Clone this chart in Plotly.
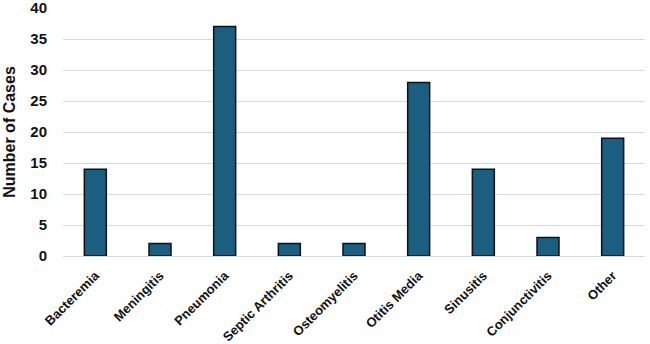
import plotly.graph_objects as go

categories = ["Bacteremia", "Meningitis", "Pneumonia", "Septic Arthritis", "Osteomyelitis",
              "Otitis Media", "Sinusitis", "Conjunctivitis", "Other"]
cases = [14, 2, 37, 2, 2, 28, 14, 3, 19]
y_ticks = [0, 5, 10, 15, 20, 25, 30, 35, 40]

fig = go.Figure(go.Bar(
    x=categories, y=cases,
    marker=dict(color="#1b5e80", line=dict(color="#111111", width=1.5)),
))

font_family = "Liberation Sans, Arial, sans-serif"
fig.update_layout(
    width=650, height=344,
    margin=dict(l=63, r=5, t=8, b=88),
    plot_bgcolor="white", paper_bgcolor="white",
    bargap=0.66,
    showlegend=False,
    font=dict(family=font_family, color="#111111"),
)
fig.update_xaxes(
    tickangle=-45,
    tickfont=dict(size=13, weight="bold", color="#111111"),
    showgrid=False, showline=False,
    ticks="outside", ticklen=6, tickcolor="rgba(0,0,0,0)",
    ticklabeloverflow="allow", automargin=False,
)
fig.update_yaxes(
    range=[0, 40], tickvals=y_ticks,
    tickfont=dict(size=15, weight="bold", color="#111111"),
    title=dict(text="Number of Cases", font=dict(size=16, weight="bold", color="#111111"), standoff=10),
    showgrid=True, gridcolor="#d9d9d9", gridwidth=1,
    zeroline=True, zerolinecolor="#d9d9d9", zerolinewidth=1,
    ticks="outside", ticklen=12, tickcolor="rgba(0,0,0,0)",
    ticklabeloverflow="allow", automargin=False,
)

fig.write_html("out.html")
